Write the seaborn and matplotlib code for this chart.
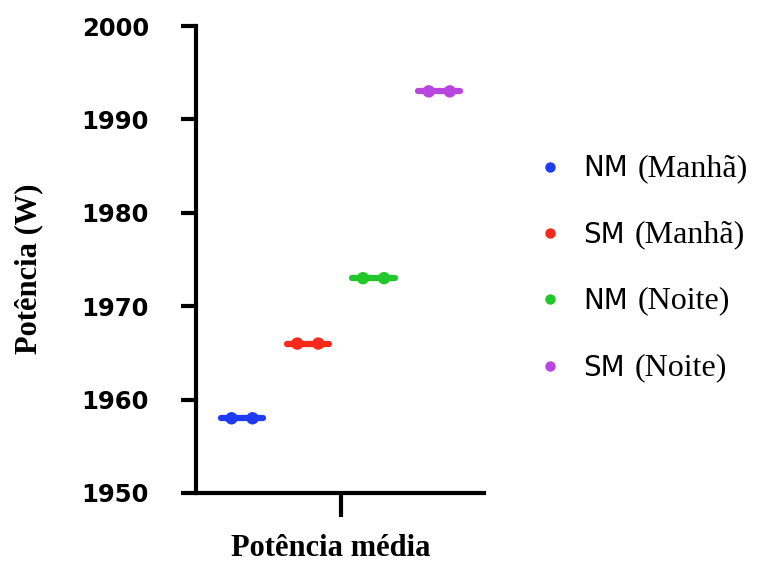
import pandas as pd
import matplotlib.pyplot as plt
import seaborn as sns
from matplotlib.lines import Line2D

# --- data ---
groups = ["NM (Manhã)", "SM (Manhã)", "NM (Noite)", "SM (Noite)"]
legend_short = ["NM", "SM", "NM", "SM"]
legend_extra = ["(Manhã)", "(Manhã)", "(Noite)", "(Noite)"]
power_rep1 = [1958, 1966, 1973, 1993]
power_rep2 = [1958, 1966, 1973, 1993]
mean_power = [1958, 1966, 1973, 1993]
y_ticks = [1950, 1960, 1970, 1980, 1990, 2000]

colors = ["#1f3cf5", "#f52a1a", "#22c82a", "#b845e0"]

# layout of the scatter (GraphPad-like: two replicate dots + mean line)
dot_offset = 0.16
line_half = 0.32

rows = []
for i, g in enumerate(groups):
    rows.append({"group": g, "x": i - dot_offset, "power": power_rep1[i]})
    rows.append({"group": g, "x": i + dot_offset, "power": power_rep2[i]})
df_dots = pd.DataFrame(rows)

line_rows = []
for i, g in enumerate(groups):
    line_rows.append({"group": g, "x": i - line_half, "power": mean_power[i]})
    line_rows.append({"group": g, "x": i + line_half, "power": mean_power[i]})
df_line = pd.DataFrame(line_rows)

sns.set_style("ticks")
plt.rcParams['font.family'] = ['DejaVu Sans']
plt.rcParams['text.color'] = 'black'
plt.rcParams['axes.labelcolor'] = 'black'
plt.rcParams['axes.edgecolor'] = 'black'
plt.rcParams['xtick.color'] = 'black'
plt.rcParams['ytick.color'] = 'black'

fig = plt.figure(figsize=(7.64, 5.63), dpi=100)
ax = fig.add_axes([196 / 764, 1 - 493 / 563, 288 / 764, 467 / 563])

palette = dict(zip(groups, colors))

sns.lineplot(data=df_line, x="x", y="power", hue="group", palette=palette,
             estimator=None, linewidth=4.5, legend=False, ax=ax)
sns.scatterplot(data=df_dots, x="x", y="power", hue="group", palette=palette,
                s=80, linewidth=0, legend=False, ax=ax, zorder=3)

# axes formatting
ax.set_xlim(-0.70, 3.68)
ax.set_ylim(1950, 2000)
ax.set_yticks(y_ticks)
ax.set_xticks([1.5])
ax.set_xticklabels([""])
sns.despine(ax=ax)
for side in ["left", "bottom"]:
    ax.spines[side].set_linewidth(3)
ax.tick_params(axis="y", length=11, width=3, pad=23, labelsize=17.5)
ax.tick_params(axis="x", length=17, width=3)
for lab in ax.get_yticklabels():
    lab.set_fontweight("bold")

ax.set_ylabel("Potência (W)", family="Liberation Serif", fontweight="bold", fontsize=22)
ax.set_xlabel("Potência média", family="Liberation Serif", fontweight="bold", fontsize=22)
ax.yaxis.set_label_coords(-0.58, 0.48)
ax.xaxis.set_label_coords(0.469, -0.118)
ax.xaxis.label.set_va("center")
ax.yaxis.label.set_va("center")

# legend: short code in sans, period in serif
handles = [Line2D([], [], linestyle="none", marker="o", markersize=7.5,
                  markerfacecolor=c, markeredgewidth=0) for c in colors]
leg = ax.legend(handles, legend_short, loc="center left",
                bbox_to_anchor=(543 / 764, 1 - 268 / 563),
                bbox_transform=fig.transFigure,
                frameon=False, fontsize=20, handlelength=0.5,
                handletextpad=0.94, labelspacing=1.38,
                borderpad=0, borderaxespad=0)
leg.set_zorder(5)
for t, extra in zip(leg.get_texts(), legend_extra):
    ax.annotate(extra, xy=(1, 0.5), xycoords=t, xytext=(7, 0),
                textcoords="offset points", va="center", ha="left",
                family="Liberation Serif", fontsize=23,
                annotation_clip=False, zorder=10)

fig.savefig("out.png", dpi=100)
